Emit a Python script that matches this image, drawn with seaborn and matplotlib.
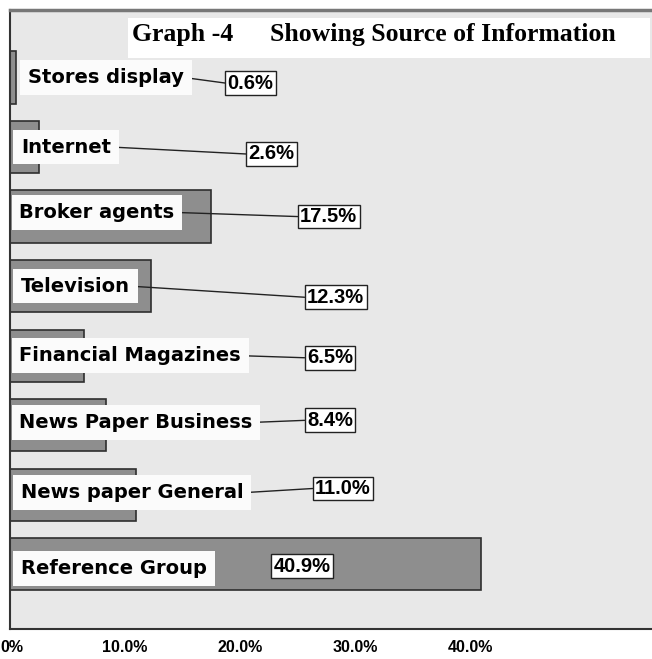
import matplotlib
matplotlib.use("Agg")
import matplotlib.pyplot as plt
import matplotlib.transforms as mtransforms
import pandas as pd
import seaborn as sns
from matplotlib.patches import Rectangle

# ---- data ----
sources = ["Stores display", "Internet", "Broker agents", "Television",
           "Financial Magazines", "News Paper Business", "News paper General",
           "Reference Group"]
percent = [0.6, 2.6, 17.5, 12.3, 6.5, 8.4, 11.0, 40.9]
tick_values = [0, 10, 20, 30, 40]
tick_labels = ["0%", "10.0%", "20.0%", "30.0%", "40.0%"]
title_left = "Graph -4"
title_right = "Showing Source of Information"

# ---- callout layout (data units) ----
label_x = [1.6, 1.0, 0.85, 1.0, 0.85, 0.85, 1.0, 1.0]
label_dy = [0.0, 0.0, -0.06, 0.0, 0.0, -0.04, -0.03, 0.06]
value_x = [18.9, 20.7, 25.2, 25.8, 25.8, 25.8, 26.5, 22.9]
value_dy = [0.08, 0.1, 0.0, 0.16, 0.03, -0.07, -0.09, 0.03]
leader = [True, True, True, True, True, True, True, False]

df = pd.DataFrame({"source": sources, "percent": percent})

sns.set_style("white")
plt.rcParams["font.family"] = ["DejaVu Sans"]
plt.rcParams["text.color"] = "black"
plt.rcParams["xtick.color"] = "black"

W, H = 652, 659
fig = plt.figure(figsize=(W / 100, H / 100), dpi=100, facecolor="white")
ax = fig.add_axes([9.5 / W, 30 / H, 1 - 9.5 / W, (629 - 10) / H])
ax.set_facecolor("#e8e8e8")

sns.barplot(data=df, x="percent", y="source", order=sources, orient="h",
            color="#8e8e8e", saturation=1, width=0.75,
            edgecolor="#2e2e2e", linewidth=1.2, ax=ax)

ax.set_xlim(0, (W - 9.5) / 11.53)
ax.set_ylim(7.93, -0.97)
ax.set_xlabel("")
ax.set_ylabel("")

ax.set_xticks(tick_values)
ax.set_xticklabels(tick_labels, fontfamily="Liberation Sans",
                   fontweight="bold", fontsize=11.5, color="black")
ax.tick_params(axis="x", direction="out", length=6, width=1.2,
               color="#333333", pad=2)
# keep the "0%" label inside the canvas
first = ax.get_xticklabels()[0]
first.set_transform(first.get_transform() +
                    mtransforms.ScaledTranslation(2 / 100, 0,
                                                  fig.dpi_scale_trans))
ax.set_yticks(range(len(sources)))
ax.set_yticklabels([])
ax.tick_params(axis="y", direction="inout", length=5, width=1.0,
               color="#333333")

for side in ("left", "bottom"):
    ax.spines[side].set_visible(True)
    ax.spines[side].set_color("#333333")
    ax.spines[side].set_linewidth(1.5)
ax.spines["top"].set_color("#777777")
ax.spines["top"].set_linewidth(2.5)
ax.spines["right"].set_visible(False)

# category labels in white boxes and value labels in outlined boxes
label_texts, value_texts = [], []
for i, (name, val) in enumerate(zip(sources, percent)):
    t = ax.text(label_x[i], i + label_dy[i], name, ha="left", va="center",
                fontsize=14, fontweight="bold", color="black", zorder=5,
                bbox=dict(boxstyle="square,pad=0.4", facecolor="#fbfbfb",
                          edgecolor="none"))
    v = ax.text(value_x[i], i + value_dy[i], f"{val:.1f}%", ha="left",
                va="center", fontsize=14.5, fontweight="bold",
                fontfamily="Liberation Sans", color="black", zorder=6,
                bbox=dict(boxstyle="square,pad=0.12", facecolor="white",
                          edgecolor="#222222", linewidth=1.0))
    label_texts.append(t)
    value_texts.append(v)

fig.canvas.draw()
renderer = fig.canvas.get_renderer()
inv = ax.transData.inverted()
for i in range(len(sources)):
    if not leader[i]:
        continue
    lb = label_texts[i].get_window_extent(renderer)
    vb = value_texts[i].get_bbox_patch().get_window_extent(renderer)
    x0, _ = inv.transform((lb.x1, 0))
    x1, _ = inv.transform((vb.x0, 0))
    ax.plot([x0, x1], [i + label_dy[i], i + value_dy[i]], color="#222222",
            linewidth=1.0, zorder=4.5)

# title panel
fig.patches.append(Rectangle((128 / W, (H - 58) / H), 522 / W, 40 / H,
                             transform=fig.transFigure, facecolor="white",
                             edgecolor="none", zorder=2))
fig.text(132 / W, (H - 41) / H, title_left, ha="left", va="baseline",
         fontfamily="Liberation Serif", fontweight="bold", fontsize=18.5,
         color="black", zorder=3)
fig.text(270 / W, (H - 41) / H, title_right, ha="left", va="baseline",
         fontfamily="Liberation Serif", fontweight="bold", fontsize=18.5,
         color="black", zorder=3)

fig.savefig("out.png", dpi=100, facecolor="white")
